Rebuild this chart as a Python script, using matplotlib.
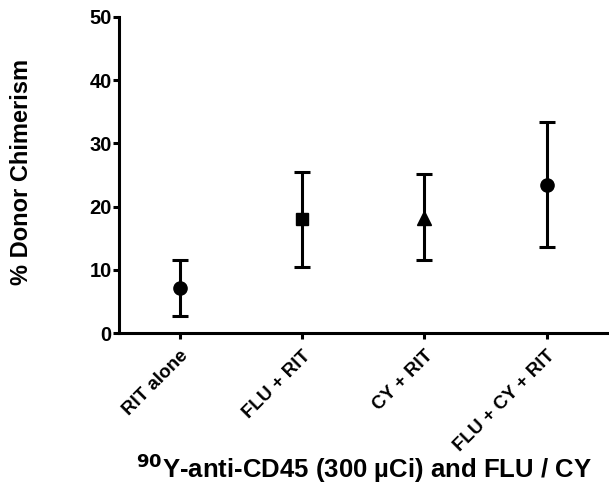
import matplotlib
matplotlib.use("Agg")
import matplotlib.pyplot as plt
import numpy as np

plt.rcParams.update({
    'font.family': ['Liberation Sans', 'DejaVu Sans'],
    'font.weight': 'bold',
    'axes.linewidth': 2.2,
    'mathtext.default': 'bf',
})

# Data
groups = ["RIT alone", "FLU + RIT", "CY + RIT", "FLU + CY + RIT"]
means = [7.1, 18.0, 18.2, 23.4]
upper = [11.5, 25.5, 25.2, 33.3]
lower = [2.7, 10.4, 11.5, 13.6]
markers = ['o', 's', '^', 'o']
msizes = [9.5, 9, 10, 9.5]

fig = plt.figure(figsize=(6.09, 4.93), dpi=100)
ax = fig.add_axes([0.195, 0.324, 0.803, 0.642])

x = np.arange(len(groups))
for i in range(len(groups)):
    err = [[means[i] - lower[i]], [upper[i] - means[i]]]
    ax.errorbar(x[i], means[i], yerr=err, fmt=markers[i], color='black',
                markersize=msizes[i], elinewidth=2.2,
                capsize=5.5, capthick=2.2)

ax.set_xlim(-0.5, 3.5)
ax.set_ylim(0, 50)
ax.set_yticks([0, 10, 20, 30, 40, 50])
ax.set_xticks(x)
ax.set_xticklabels(groups, rotation=45, ha='right', rotation_mode='anchor',
                   fontsize=13.5, fontweight='bold')
ax.tick_params(axis='x', width=2.2, length=4, pad=6)
ax.tick_params(axis='y', width=2.2, length=4, pad=1, labelsize=14.5)
for lab in ax.get_yticklabels():
    lab.set_fontweight('bold')
ax.spines['top'].set_visible(False)
ax.spines['right'].set_visible(False)

fig.text(22 / 609, 1 - 172 / 493, "% Donor Chimerism", rotation=90,
         fontsize=17, fontweight='bold', ha='center', va='center')
fig.text(364 / 609, 1 - 468 / 493, r"$^{90}$Y-anti-CD45 (300 µCi) and FLU / CY",
         fontsize=18.5, fontweight='bold', ha='center', va='center')

fig.savefig("out.png", dpi=100)
